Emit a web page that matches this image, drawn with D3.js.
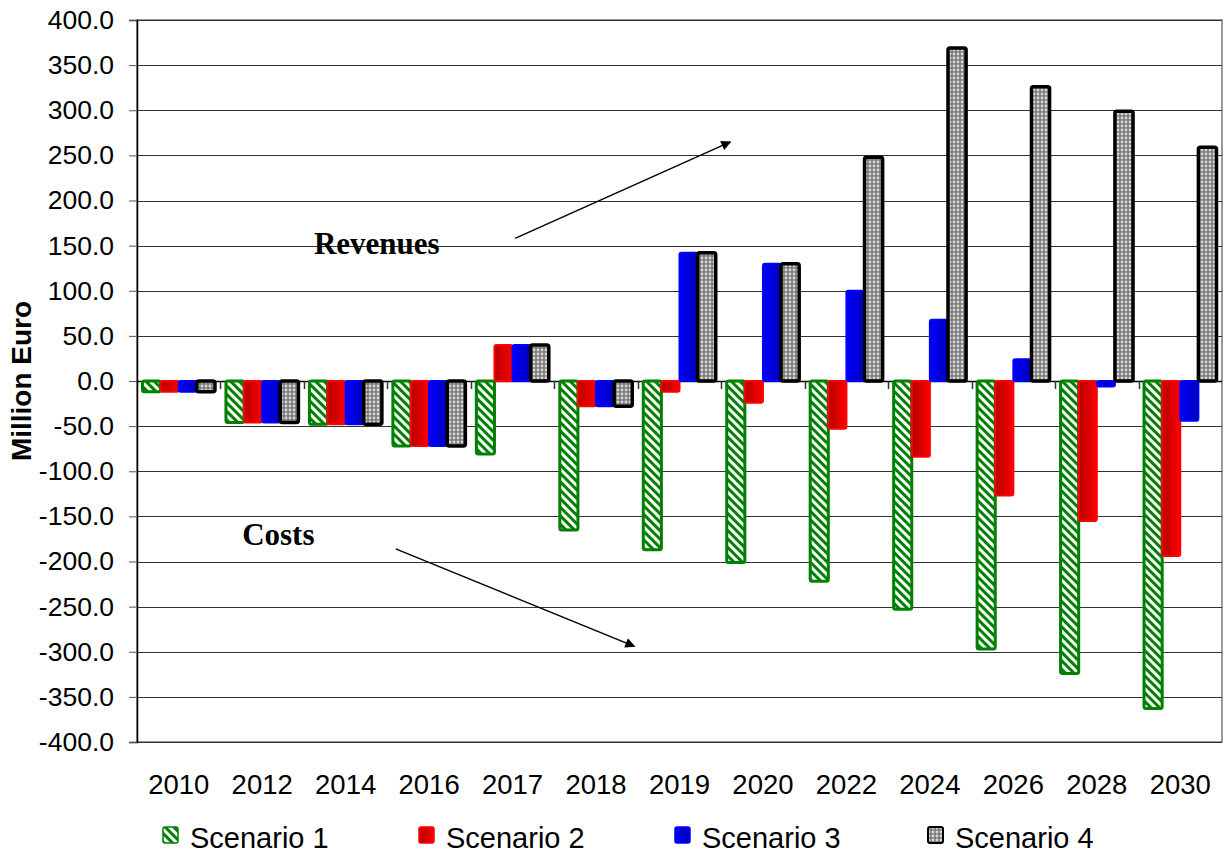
<!DOCTYPE html>
<html>
<head>
<meta charset="utf-8">
<script src="https://cdn.jsdelivr.net/npm/d3@7"></script>
<style>
  body { margin: 0; background: #fff; }
  svg { display: block; font-family: "Liberation Sans", Arial, sans-serif; }
</style>
</head>
<body>
<svg id="chart" width="1225" height="854"></svg>
<script>
// years on the category axis
const categories = ["2010", "2012", "2014", "2016", "2017", "2018", "2019", "2020", "2022", "2024", "2026", "2028", "2030"];

// Million Euro per scenario
const scenario1 = [-12, -46, -48, -72, -81, -165, -187, -201, -222, -253, -297, -324, -363];
const scenario2 = [-12, -46, -48, -72, 40, -28, -12, -24, -53, -84, -127, -155, -194];
const scenario3 = [-12, -46, -48, -72, 40, -28, 142, 130, 100, 68, 24, -6, -44];
const scenario4 = [-12, -46, -48, -72, 40, -28, 142, 130, 248, 369, 326, 299, 259];

const seriesNames = ["Scenario 1", "Scenario 2", "Scenario 3", "Scenario 4"];
const yTicks = d3.range(-400, 401, 50);

// annotation arrows, in category-index / value units
const notes = [
    { label: "Revenues", tx: 2.12, ty: 141, x1: 4.53, y1: 158, x2: 7.11, y2: 265 },
    { label: "Costs", tx: 1.26, ty: -182, x1: 3.10, y1: -186, x2: 5.96, y2: -294 }
];

const svg = d3.select("#chart");
const plotLeft = 137, plotRight = 1222, plotTop = 20, plotBottom = 742;

let x = d3.scaleBand()
    .domain(categories)
    .range([plotLeft, plotRight]);

let inner = d3.scaleBand()
    .domain(seriesNames)
    .range([5.5, x.bandwidth() - 5.5]);

let xPos = d3.scaleLinear().domain([0, categories.length]).range([plotLeft, plotRight]);

let y = d3.scaleLinear().domain([-400, 400]).range([plotBottom, plotTop]);

// fills
const defs = svg.append("defs");

let stripes = defs.append("pattern")
    .attr("id", "stripes")
    .attr("patternUnits", "userSpaceOnUse")
    .attr("width", 6).attr("height", 6)
    .attr("patternTransform", "rotate(-45)");
stripes.append("rect").attr("width", 6).attr("height", 6).attr("fill", "#fff");
stripes.append("rect").attr("width", 3).attr("height", 6).attr("fill", "#008000");

let dots = defs.append("pattern")
    .attr("id", "dots")
    .attr("patternUnits", "userSpaceOnUse")
    .attr("width", 4).attr("height", 4);
dots.append("rect").attr("width", 4).attr("height", 4).attr("fill", "#7a7a7a");
dots.append("circle").attr("cx", 2).attr("cy", 2).attr("r", 1.4).attr("fill", "#d8d8d8");

let redGrad = defs.append("linearGradient").attr("id", "redGrad");
redGrad.append("stop").attr("offset", "0%").attr("stop-color", "#b80000");
redGrad.append("stop").attr("offset", "55%").attr("stop-color", "#dd0000");
redGrad.append("stop").attr("offset", "100%").attr("stop-color", "#ff0000");

let blueGrad = defs.append("linearGradient").attr("id", "blueGrad");
blueGrad.append("stop").attr("offset", "0%").attr("stop-color", "#0000ff");
blueGrad.append("stop").attr("offset", "100%").attr("stop-color", "#0000b8");

const styles = [
    { fill: "url(#stripes)", stroke: "#008000", sw: 3 },
    { fill: "url(#redGrad)", stroke: "#ff0000", sw: 2 },
    { fill: "url(#blueGrad)", stroke: "#0000ff", sw: 2 },
    { fill: "url(#dots)", stroke: "#000", sw: 3.5 }
];

// plot border + gridlines
svg.append("rect")
    .attr("x", plotLeft).attr("y", plotTop)
    .attr("width", plotRight - plotLeft).attr("height", plotBottom - plotTop)
    .attr("fill", "none").attr("stroke", "#777").attr("stroke-width", 1.5);

svg.append("g")
    .selectAll("line")
    .data(yTicks)
    .enter().append("line")
    .attr("x1", plotLeft).attr("x2", plotRight)
    .attr("y1", d => Math.round(y(d)) + 0.5).attr("y2", d => Math.round(y(d)) + 0.5)
    .attr("stroke", d => d === 0 ? "#000" : "#333")
    .attr("stroke-width", d => d === 0 ? 1.5 : 1);

// y axis
let yAxis = svg.append("g")
    .attr("transform", "translate(" + plotLeft + ",0)")
    .call(d3.axisLeft(y).tickValues(yTicks).tickSize(8).tickPadding(15)
        .tickFormat(d => d.toFixed(1)));
yAxis.select(".domain").attr("stroke", "#000").attr("stroke-width", 1.5);
yAxis.selectAll(".tick line").attr("stroke", "#555");
yAxis.selectAll("text")
    .attr("font-size", "26.5px")
    .attr("font-family", "'Liberation Sans', Arial, sans-serif")
    .attr("fill", "#000");

svg.append("text")
    .attr("transform", "translate(31," + y(0) + ") rotate(-90)")
    .attr("text-anchor", "middle")
    .attr("font-size", "28px")
    .attr("font-weight", "bold")
    .text("Million Euro");

// category ticks on the zero line
svg.append("g")
    .selectAll("line")
    .data(d3.range(1, categories.length))
    .enter().append("line")
    .attr("x1", d => Math.round(xPos(d)) + 0.5).attr("x2", d => Math.round(xPos(d)) + 0.5)
    .attr("y1", y(0)).attr("y2", y(0) + 8)
    .attr("stroke", "#333").attr("stroke-width", 1.5);

svg.append("g")
    .selectAll("text")
    .data(categories)
    .enter().append("text")
    .attr("x", d => x(d) + x.bandwidth() / 2)
    .attr("y", 794)
    .attr("text-anchor", "middle")
    .attr("font-size", "27.5px")
    .text(d => d);

// bars
const allSeries = [scenario1, scenario2, scenario3, scenario4];
allSeries.forEach(function(values, si) {
    let st = styles[si];
    svg.append("g")
        .selectAll("rect")
        .data(values)
        .enter().append("rect")
        .attr("x", (d, i) => x(categories[i]) + inner(seriesNames[si]))
        .attr("y", d => y(Math.max(0, d)))
        .attr("width", inner.bandwidth())
        .attr("height", d => Math.abs(y(d) - y(0)))
        .attr("rx", 2)
        .attr("fill", st.fill)
        .attr("stroke", st.stroke)
        .attr("stroke-width", st.sw);
});

// annotations
defs.append("marker")
    .attr("id", "arrow")
    .attr("viewBox", "0 0 10 10")
    .attr("refX", 9).attr("refY", 5)
    .attr("markerWidth", 15).attr("markerHeight", 10)
    .attr("markerUnits", "userSpaceOnUse")
    .attr("orient", "auto")
    .append("path").attr("d", "M0,0 L10,5 L0,10 z").attr("fill", "#000");

notes.forEach(function(n) {
    svg.append("line")
        .attr("x1", xPos(n.x1)).attr("y1", y(n.y1))
        .attr("x2", xPos(n.x2)).attr("y2", y(n.y2))
        .attr("stroke", "#000").attr("stroke-width", 1.5)
        .attr("marker-end", "url(#arrow)");
    svg.append("text")
        .attr("x", xPos(n.tx)).attr("y", y(n.ty))
        .attr("font-family", "'Liberation Serif', 'Times New Roman', serif")
        .attr("font-weight", "bold")
        .attr("font-size", "31px")
        .text(n.label);
});

// legend
const legendX = [162, 418, 674, 927];
let legend = svg.append("g")
    .selectAll("g")
    .data(seriesNames)
    .enter().append("g")
    .attr("transform", (d, i) => "translate(" + legendX[i] + ",826)");

legend.append("rect")
    .attr("x", 1).attr("y", 1)
    .attr("width", 15).attr("height", 16)
    .attr("rx", 2)
    .attr("fill", (d, i) => styles[i].fill)
    .attr("stroke", (d, i) => styles[i].stroke)
    .attr("stroke-width", (d, i) => i === 3 ? 2 : 1.5);

legend.append("text")
    .attr("x", 28).attr("y", 22)
    .attr("font-size", "29px")
    .text(d => d);
</script>
</body>
</html>
